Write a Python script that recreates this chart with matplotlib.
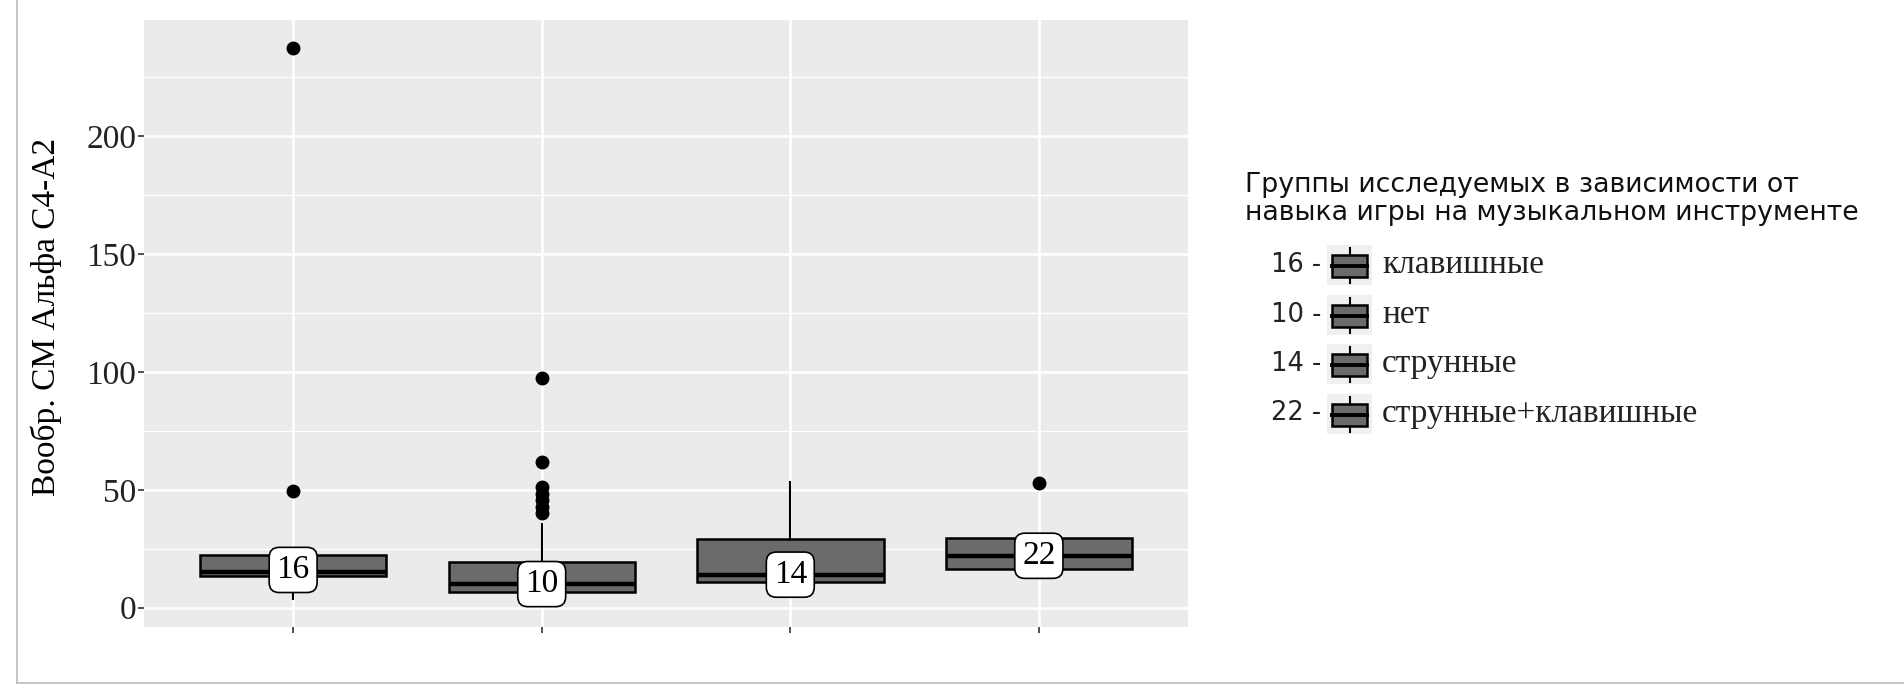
import numpy as np
import matplotlib
matplotlib.use('Agg')
import matplotlib.pyplot as plt
from matplotlib.patches import Rectangle
from matplotlib.lines import Line2D

# --- данные ---
groups = ['клавишные', 'нет', 'струнные', 'струнные+клавишные']
labels = [16, 10, 14, 22]
q1 = [13.3, 6.6, 10.8, 16.5]
med = [15.0, 9.9, 13.7, 21.9]
q3 = [22.2, 19.3, 29.2, 29.7]
whislo = [3.5, 4.0, 9.0, 12.4]
whishi = [24.0, 35.6, 53.2, 31.0]
fliers = [[49.5, 237.5],
          [40.0, 42.6, 45.5, 48.3, 51.0, 61.7, 97.5],
          [],
          [53.0]]

legend_title = 'Группы исследуемых в зависимости от\nнавыка игры на музыкальном инструменте'
ylabel = 'Вообр. СМ Альфа С4-А2'

SERIF = 'Liberation Serif'
SANS = 'DejaVu Sans'
BOX_FILL = '#6b6b6b'

W, H = 1904, 696
fig = plt.figure(figsize=(W / 100, H / 100), dpi=100)
ax = fig.add_axes([144 / W, 1 - 627 / H, (1188 - 144) / W, (627 - 20) / H])

stats = []
for i in range(len(groups)):
    stats.append({'med': med[i], 'q1': q1[i], 'q3': q3[i],
                  'whislo': whislo[i], 'whishi': whishi[i], 'fliers': fliers[i]})
pos = np.arange(1, len(groups) + 1)

ax.bxp(stats, positions=pos, widths=0.75, patch_artist=True, showcaps=False,
       boxprops=dict(facecolor=BOX_FILL, edgecolor='black', linewidth=1.8),
       medianprops=dict(color='black', linewidth=3.2),
       whiskerprops=dict(color='black', linewidth=1.5),
       flierprops=dict(marker='o', markerfacecolor='black', markeredgecolor='black', markersize=9),
       zorder=3)

for x, lab in zip(pos, labels):
    ax.text(x, lab, str(lab), ha='center', va='center', family=SERIF, fontsize=24, zorder=5,
            bbox=dict(boxstyle='round,pad=0.22,rounding_size=0.3', fc='white', ec='black', lw=1.2))

# оси в стиле ggplot
lo = min(whislo)
hi = max(max(f) for f in fliers if f)
pad = 0.05 * (hi - lo)
ax.set_ylim(lo - pad, hi + pad)
ax.set_xlim(0.4, len(groups) + 0.6)
ax.set_facecolor('#EBEBEB')
for s in ax.spines.values():
    s.set_visible(False)
ax.set_yticks([0, 50, 100, 150, 200])
ax.set_yticks([25, 75, 125, 175, 225], minor=True)
ax.set_xticks(pos)
ax.set_xticklabels([''] * len(groups))
ax.grid(which='major', color='white', linewidth=1.8, zorder=0)
ax.grid(which='minor', axis='y', color='white', linewidth=0.9, zorder=0)
ax.set_axisbelow(True)
ax.tick_params(axis='both', which='major', length=4, width=1.2, color='#333333', pad=1.5)
ax.tick_params(axis='y', which='minor', length=0)
for t in ax.get_yticklabels():
    t.set_family(SERIF)
    t.set_fontsize(24)
    t.set_color('#222222')
ax.set_ylabel(ylabel, family=SERIF, fontsize=24, color='black')
ax.yaxis.set_label_coords(-0.079, 0.51)

# легенда и рамка рисунка, в пикселях
ov = fig.add_axes([0, 0, 1, 1], zorder=10)
ov.set_xlim(0, W)
ov.set_ylim(H, 0)
ov.axis('off')
ov.patch.set_alpha(0)
ov.add_line(Line2D([17, 17], [0, 683], color='#bbbbbb', lw=1.2))
ov.add_line(Line2D([17, W], [683, 683], color='#bbbbbb', lw=1.2))

ov.text(1245, 199, legend_title, family=SANS, fontsize=19.3, ha='left', va='center',
        linespacing=1.12, color='#111111')
for i, (g, lab) in enumerate(zip(groups, labels)):
    yc = 265 + i * 49.5
    ov.text(1321, yc, f'{lab} -', family=SANS, fontsize=18.5, ha='right', va='center', color='#222222')
    ov.add_patch(Rectangle((1327, yc - 20), 45, 40, fc='#F0F0F0', ec='none', zorder=1))
    ov.add_line(Line2D([1349.5, 1349.5], [yc - 17, yc + 18], color='black', lw=1.5, zorder=2))
    ov.add_patch(Rectangle((1332, yc - 10), 35, 22, fc=BOX_FILL, ec='black', lw=1.8, zorder=3))
    ov.add_line(Line2D([1332, 1367], [yc + 1, yc + 1], color='black', lw=2.8, zorder=4))
    ov.text(1382, yc, g, family=SERIF, fontsize=24, ha='left', va='center', color='#222222')

fig.savefig('out.png', dpi=100)
